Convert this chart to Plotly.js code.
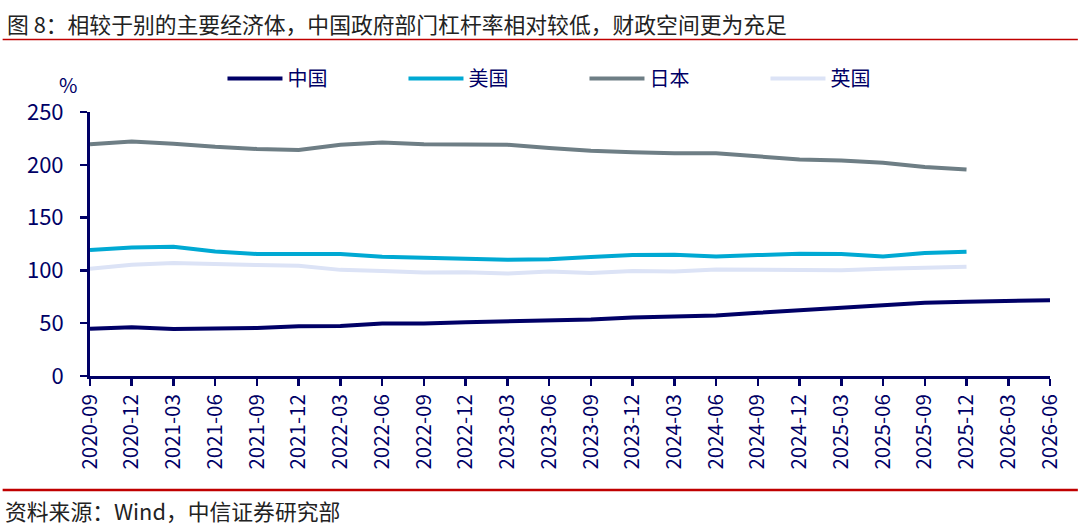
<!DOCTYPE html>
<html>
<head>
<meta charset="utf-8">
<script src="https://cdn.plot.ly/plotly-3.0.1.min.js"></script>
<style>
  html, body { margin: 0; padding: 0; background: #fff; }
  #chart { width: 1080px; height: 527px; }
</style>
</head>
<body>
<div id="chart"></div>
<script>
// 季度（横轴类目）
const quarters = [
  "2020-09", "2020-12", "2021-03", "2021-06", "2021-09", "2021-12",
  "2022-03", "2022-06", "2022-09", "2022-12", "2023-03", "2023-06",
  "2023-09", "2023-12", "2024-03", "2024-06", "2024-09", "2024-12",
  "2025-03", "2025-06", "2025-09", "2025-12", "2026-03", "2026-06"
];

// 政府部门杠杆率（%），读自原图
const china = [44.8, 46.1, 44.5, 44.8, 45.4, 47.0, 47.4, 49.6, 49.6, 50.9, 51.8, 52.5,
  53.4, 55.3, 56.3, 57.2, 59.8, 62.0, 64.2, 66.8, 69.3, 70.3, 71.2, 71.8];
const usa = [119.3, 121.8, 122.5, 118.0, 115.5, 115.5, 115.5, 112.9, 111.6, 111.0, 110.0, 110.5,
  112.8, 114.5, 114.8, 113.2, 114.5, 115.8, 115.5, 113.2, 116.4, 117.7, null, null];
const japan = [219.5, 222.0, 220.0, 217.0, 215.0, 214.0, 219.0, 221.0, 219.5, 219.0, 219.0, 216.0,
  213.4, 212.0, 211.0, 211.0, 207.7, 205.0, 204.0, 202.0, 198.0, 195.6, null, null];
const uk = [101.5, 105.3, 106.9, 105.6, 105.0, 104.3, 100.5, 99.5, 98.0, 98.3, 97.0, 99.0,
  97.6, 99.5, 99.0, 100.8, 100.8, 100.8, 100.2, 101.5, 102.5, 103.4, null, null];

const navy = "#000066";
const cjk = "'Noto Sans CJK SC', 'Noto Sans', sans-serif";

function line(name, y, color) {
  return {
    x: quarters, y: y, name: name,
    type: "scatter", mode: "lines",
    line: { color: color, width: 4 },
    connectgaps: false,
    hoverinfo: "skip"
  };
}

const traces = [
  line("中国", china, navy),
  line("美国", usa, "#00A9D3"),
  line("日本", japan, "#6E7E85"),
  line("英国", uk, "#DCE3F6")
];

const layout = {
  width: 1080, height: 527,
  margin: { l: 90, r: 30, t: 112, b: 151 },
  paper_bgcolor: "#fff", plot_bgcolor: "#fff",
  font: { family: cjk, color: navy },
  showlegend: true,
  legend: {
    orientation: "h", x: 0.138, y: 1.127, xanchor: "left", yanchor: "middle",
    font: { size: 20, color: navy },
    entrywidth: 111, entrywidthmode: "pixels",
    itemwidth: 55
  },
  xaxis: {
    type: "category", range: [0, quarters.length - 1],
    showline: true, linecolor: navy, linewidth: 3,
    ticks: "outside", ticklen: 7, tickwidth: 2.5, tickcolor: navy,
    tickangle: -90, tickfont: { size: 20.5, color: navy },
    showgrid: false, zeroline: false, fixedrange: true
  },
  yaxis: {
    range: [0, 250], dtick: 50,
    showline: true, linecolor: navy, linewidth: 3,
    ticks: "outside", ticklen: 7, tickwidth: 2.5, tickcolor: navy,
    tickfont: { size: 22, color: navy },
    ticklabelstandoff: 12,
    showgrid: false, zeroline: false, fixedrange: true
  },
  shapes: [
    { type: "line", xref: "paper", yref: "paper", x0: -0.091, x1: 1.029, y0: 1.275, y1: 1.275,
      line: { color: "#C00000", width: 1.5 } },
    { type: "line", xref: "paper", yref: "paper", x0: -0.091, x1: 1.029, y0: -0.432, y1: -0.432,
      line: { color: "#C00000", width: 2.5 } }
  ],
  annotations: [
    { xref: "paper", yref: "paper", x: -0.089, y: 1.335, xanchor: "left", yanchor: "middle",
      showarrow: false, text: "图 8：相较于别的主要经济体，中国政府部门杠杆率相对较低，财政空间更为充足",
      font: { size: 21.8, color: "#222", family: cjk } },
    { xref: "paper", yref: "paper", x: -0.023, y: 1.105, xanchor: "center", yanchor: "middle",
      showarrow: false, text: "%", font: { size: 20, color: navy } },
    { xref: "paper", yref: "paper", x: -0.091, y: -0.51, xanchor: "left", yanchor: "middle",
      showarrow: false, text: "资料来源：Wind，中信证券研究部",
      font: { size: 21.8, color: "#222", family: cjk } }
  ]
};

Plotly.newPlot("chart", traces, layout, { displayModeBar: false, staticPlot: true });
</script>
</body>
</html>
